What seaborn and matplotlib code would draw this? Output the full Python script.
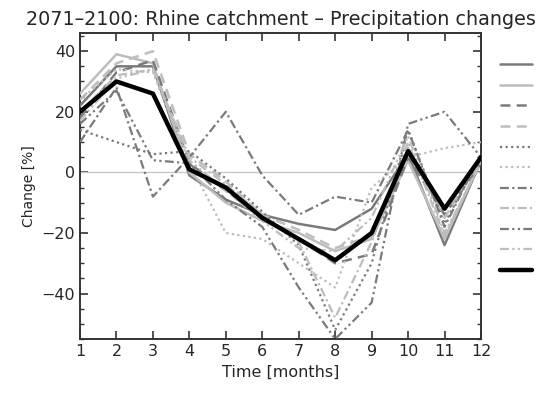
import numpy as np
import pandas as pd
import matplotlib
matplotlib.use("Agg")
import matplotlib.pyplot as plt
import seaborn as sns
from matplotlib.ticker import MultipleLocator

months = list(range(1, 13))

# precipitation change [%] per model run
s_solid_dark = [22, 35, 35, -1, -9, -14, -17, -19, -12, 6, -24, 4]
s_solid_light = [26, 39, 36, 0, -10, -16, -20, -26, -22, 4, -22, 4]
s_dash_dark = [18, 33, 37, 3, -6, -15, -22, -30, -27, 5, -14, 3]
s_dash_light = [24, 36, 40, 6, -3, -14, -19, -25, -21, 8, -15, 5]
s_dot_dark = [14, 10, 6, 7, -2, -13, -24, -52, -30, 14, -17, 6]
s_dot_light = [24, 34, 33, 3, -20, -22, -30, -38, -5, 5, 8, 10]
s_dashdot_dark = [10, 28, -8, 5, 20, -1, -14, -8, -10, 14, -18, 6]
s_dashdot_light = [20, 32, 34, 5, -4, -14, -23, -48, -23, 10, -21, 4]
s_dd_dark = [16, 27, 4, 3, -9, -18, -38, -55, -43, 16, 20, 5]
s_dd_light = [17, 31, 34, 4, -6, -16, -25, -26, -15, 12, -20, 3]
s_mean = [20, 30, 26, 1, -5, -15, -22, -29, -20, 7, -12, 5]

series = [s_solid_dark, s_solid_light, s_dash_dark, s_dash_light, s_dot_dark,
          s_dot_light, s_dashdot_dark, s_dashdot_light, s_dd_dark, s_dd_light, s_mean]

dark, light = "#7a7a7a", "#bdbdbd"
styles = [
    (dark, (None, None), 1.8),
    (light, (None, None), 1.8),
    (dark, (4, 2.5), 1.8),
    (light, (4, 2.5), 1.8),
    (dark, (1, 1.5), 1.6),
    (light, (1, 1.5), 1.6),
    (dark, (4, 1.5, 1, 1.5), 1.6),
    (light, (4, 1.5, 1, 1.5), 1.6),
    (dark, (4, 1.5, 1, 1.5, 1, 1.5), 1.6),
    (light, (4, 1.5, 1, 1.5, 1, 1.5), 1.6),
    ("black", (None, None), 3.2),
]

sns.set_style("ticks")
plt.rcParams['font.family'] = ['DejaVu Sans']

fig = plt.figure(figsize=(5.36, 3.96), dpi=100)
ax = fig.add_axes([80 / 536, 1 - 339 / 396, 401 / 536, 306 / 396])

ax.axhline(0, color="#c8c8c8", lw=1.0, zorder=1)

handles = []
for vals, (col, dash, lw) in zip(series, styles):
    df = pd.DataFrame({"month": months, "change": vals})
    sns.lineplot(data=df, x="month", y="change", ax=ax, color=col, lw=lw, zorder=3)
    ln = ax.lines[-1]
    if dash[0] is not None:
        ln.set_dashes(dash)
    handles.append(ln)

ax.set_xlim(1, 12)
ax.set_ylim(-55, 46)
ax.set_xticks(months)
ax.yaxis.set_major_locator(MultipleLocator(20))
ax.yaxis.set_minor_locator(MultipleLocator(5))
ax.tick_params(axis="both", which="both", direction="in", top=True, right=True,
               labelsize=11.5, color="#333333")
ax.tick_params(which="major", length=6, width=1.2)
ax.tick_params(which="minor", length=3, width=1.0)
for sp in ax.spines.values():
    sp.set_linewidth(1.4)
    sp.set_color("#333333")

ax.set_xlabel("Time [months]", fontsize=11.5)
ax.set_ylabel("Change [%]", fontsize=10)
ax.set_title("2071\u20132100: Rhine catchment \u2013 Precipitation changes", fontsize=13.8, pad=6)

leg = ax.legend(handles, [""] * len(handles), loc="upper left", bbox_to_anchor=(1.03, 0.94),
                frameon=False, handlelength=2.3, labelspacing=0.47, handletextpad=0.0,
                borderpad=0)

fig.savefig("out.png", dpi=100)
